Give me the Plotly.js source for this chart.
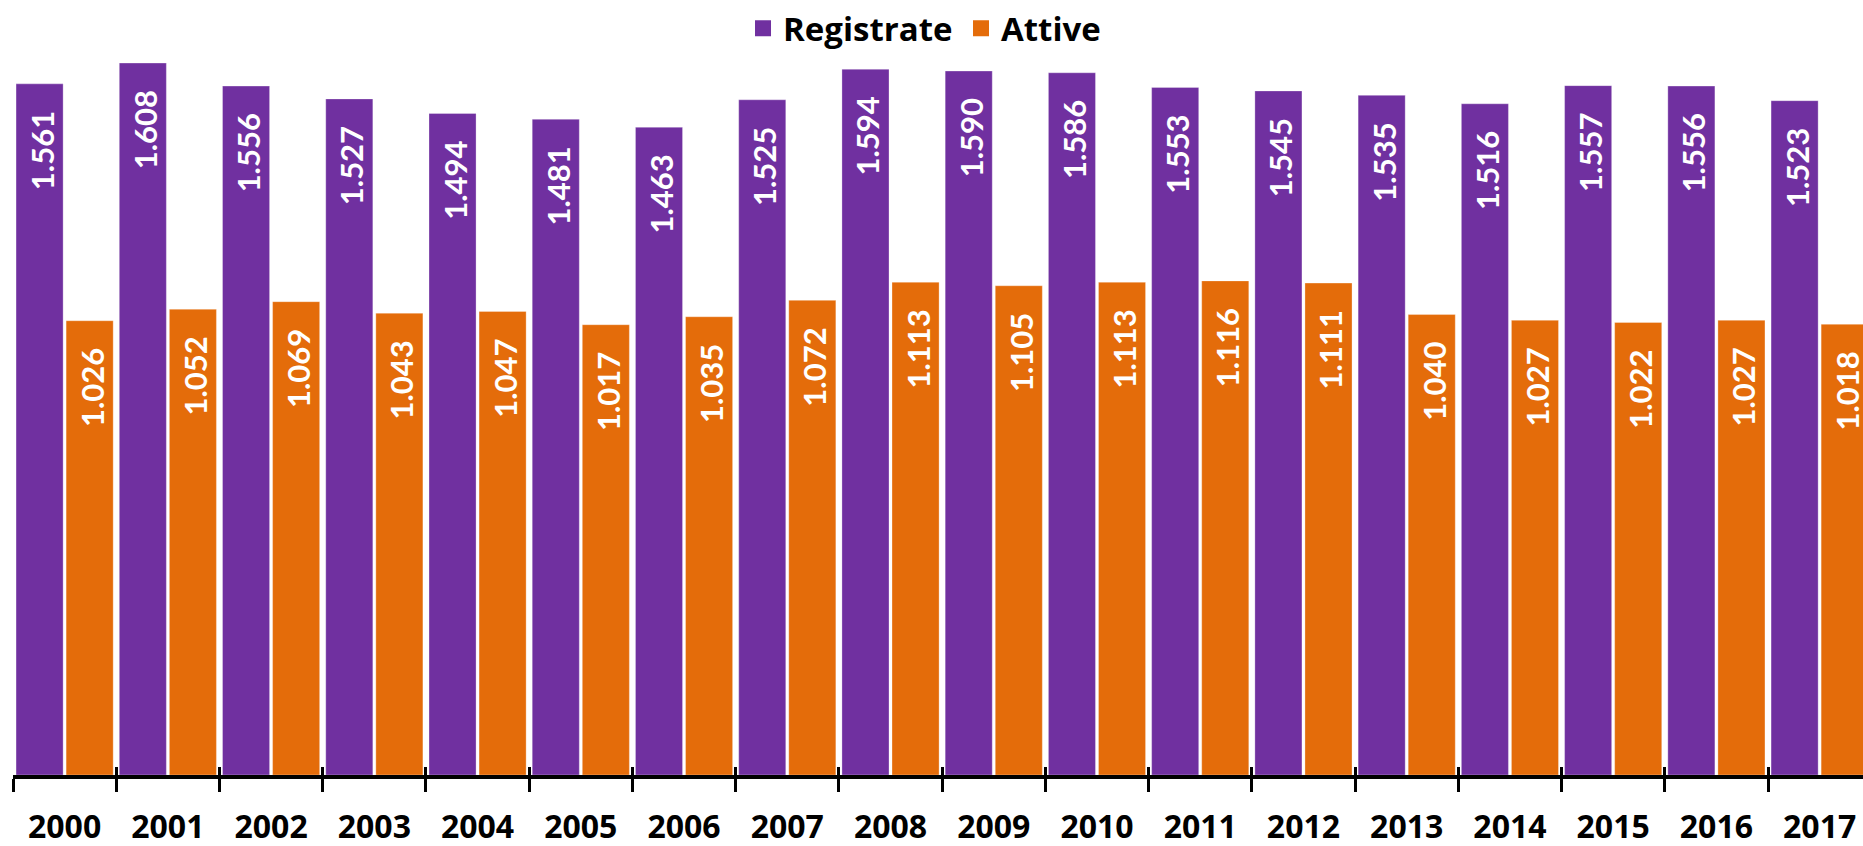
<!DOCTYPE html>
<html>
<head>
<meta charset="utf-8">
<script src="https://cdn.plot.ly/plotly-3.0.1.min.js"></script>
<style>html,body{margin:0;padding:0;background:#fff;}#chart{width:1863px;height:846px;}</style>
</head>
<body>
<div id="chart"></div>
<script>
const years = ["2000","2001","2002","2003","2004","2005","2006","2007","2008","2009","2010","2011","2012","2013","2014","2015","2016","2017"];
const registrate = [1561,1608,1556,1527,1494,1481,1463,1525,1594,1590,1586,1553,1545,1535,1516,1557,1556,1523];
const attive = [1026,1052,1069,1043,1047,1017,1035,1072,1113,1105,1113,1116,1111,1040,1027,1022,1027,1018];
const seriesNames = ["Registrate", "Attive"];
const seriesColors = ["#7030A0", "#E46C0A"];

const LABEL_FONT = "Lato, 'Open Sans', sans-serif";
const AXIS_FONT = "'Open Sans', Lato, sans-serif";
function barTrace(name, vals, color){
  return {
    type: 'bar', name: name, x: years, y: vals, showlegend: false,
    marker: {color: color, line: {color: 'rgba(255,255,255,0.6)', width: 0.5}},
    // trailing spacer in the bar colour keeps the label off the bar top
    texttemplate: '%{y:,.0f}<span style="color:' + color + ';font-size:35px">X</span>',
    textposition: 'inside', insidetextanchor: 'end', textangle: -90,
    constraintext: 'none',
    insidetextfont: {family: LABEL_FONT, size: 31, color: '#ffffff', weight: 700},
    hoverinfo: 'x+y'
  };
}
function legendTrace(name, color){
  return {type: 'scatter', mode: 'markers', name: name, x: [null], y: [null],
          marker: {symbol: 'square', size: 17, color: color}, showlegend: true, hoverinfo: 'skip'};
}
const data = [
  barTrace(seriesNames[0], registrate, seriesColors[0]),
  barTrace(seriesNames[1], attive, seriesColors[1]),
  legendTrace(seriesNames[0], seriesColors[0]),
  legendTrace(seriesNames[1], seriesColors[1]),
  {type:'bar', x: years, y: registrate, xaxis:'x2', yaxis:'y', showlegend:false, marker:{color:'rgba(0,0,0,0)'}, hoverinfo:'skip', opacity:0}
];
const layout = {
  width: 1863, height: 846,
  margin: {l: 13, r: 0, t: 40, b: 71, pad: 0},
  paper_bgcolor: '#ffffff', plot_bgcolor: '#ffffff',
  separators: ',.',
  barmode: 'group', bargap: 0.03, bargroupgap: 0.06,
  font: {family: AXIS_FONT, color: '#000000'},
  showlegend: true,
  legend: {orientation: 'h', x: 0.3946, xanchor: 'left', y: 1.027, yanchor: 'middle',
           font: {family: AXIS_FONT, size: 33, color: '#000', weight: 700}, itemwidth: 30,
           entrywidth: 173, entrywidthmode: 'pixels', traceorder: 'normal'},
  xaxis: {type: 'category', range: [-0.5, 17.42], showline: true, linecolor: '#000', linewidth: 4,
          ticks: 'outside', ticklen: 13, tickwidth: 3, tickcolor: '#000', tickson: 'boundaries',
          tickfont: {family: AXIS_FONT, size: 32, color: '#000', weight: 700}, ticklabelstandoff: 21,
          showgrid: false, zeroline: false, fixedrange: true},
  xaxis2: {type: 'category', overlaying: 'x', range: [-0.5, 17.42], anchor: 'y', side: 'bottom',
           showline: false, ticks: 'inside', ticklen: 8, tickwidth: 3, tickcolor: '#000', tickson: 'boundaries',
           showticklabels: false, showgrid: false, zeroline: false, fixedrange: true},
  yaxis: {range: [0, 1642], visible: false, showgrid: false, zeroline: false, fixedrange: true}
};
Plotly.newPlot('chart', data, layout, {displayModeBar: false, staticPlot: true});
</script>
</body>
</html>
